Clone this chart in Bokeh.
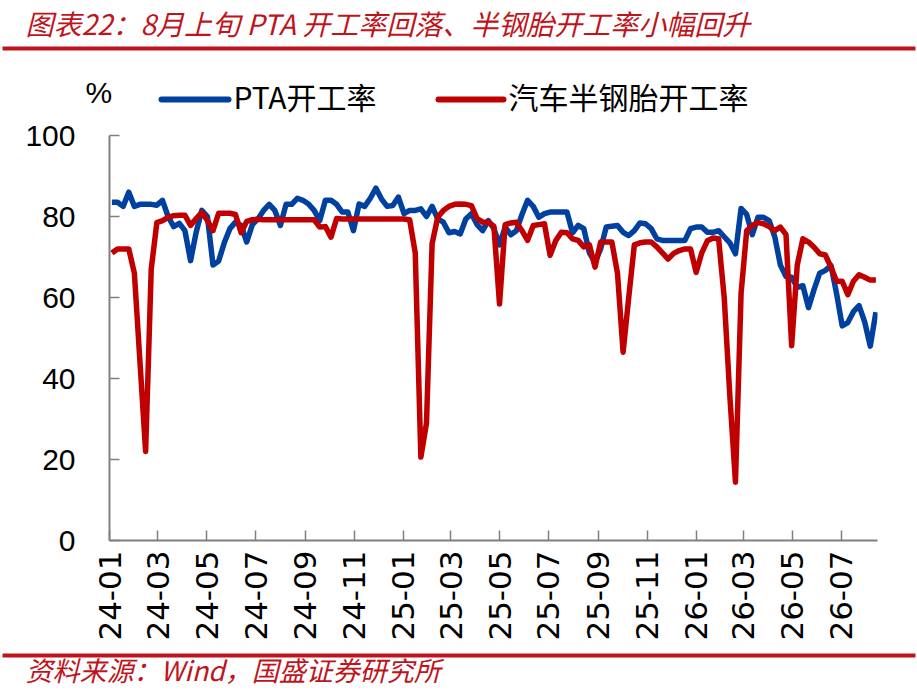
import math
import pandas as pd
from bokeh.plotting import figure
from bokeh.models import Range1d, FixedTicker, Label
from bokeh.embed import file_html
from bokeh.resources import INLINE

# ---------------- data (weekly) ----------------
start_date = "2024-01-04"
pta = [83.5, 83.5, 82.5, 86, 82.5, 83, 83, 83, 82.8, 84,
       80, 77.5, 78.3, 76.5, 69.1, 76.1, 81.5, 80, 68, 69,
       73.5, 77, 78.6, 77.8, 73.7, 78, 79.4, 81.5, 83, 81.5,
       77.8, 83, 83, 84.5, 84, 83.1, 81.5, 79, 84, 84,
       83, 81.1, 81.1, 76.5, 83.1, 82.5, 84.5, 87, 84.3, 82.5,
       82.7, 84.8, 80.7, 81.5, 81.5, 81.9, 80, 82.5, 79.4, 78.6,
       76, 76.3, 75.7, 79.4, 80.7, 78, 76.5, 79, 77, 73,
       77.4, 75.5, 76.5, 80.5, 84, 82.5, 79.8, 80.7, 81.1, 81.1,
       81.1, 81.1, 76, 77.8, 77, 71, 68.7, 72, 77.4, 77.6,
       77.8, 76.1, 75.3, 76.5, 78.4, 78.2, 77, 74.5, 74.1, 74.1,
       74.1, 74.1, 74.1, 77, 77.4, 77.4, 76.1, 76.1, 76.5, 75,
       73.5, 70.8, 82, 80.5, 75.5, 79.8, 79.8, 79, 75, 68,
       65.2, 65, 62.5, 62.9, 57.5, 62, 66, 66.7, 67.9, 61,
       53, 53.8, 56.5, 58, 54, 48, 56.4]
tire = [71, 72, 72, 72, 66, 44, 22, 67, 78.5, 79,
        79.8, 80.2, 80.3, 80.3, 77.8, 79.5, 81, 79, 76.5, 80.8,
        80.8, 80.8, 80.5, 76, 78.8, 79.2, 79.3, 79.2, 79.2, 79.2,
        79.2, 79.2, 79.2, 79.2, 79.2, 79.2, 79.2, 77.4, 77.5, 74.9,
        79.5, 79.4, 79.4, 79.4, 79.4, 79.4, 79.4, 79.4, 79.4, 79.4,
        79.4, 79.4, 79.4, 79.2, 71, 20.6, 29, 73.3, 79.8, 81.5,
        82.5, 83, 83.1, 83, 82.7, 79.5, 78.6, 78.6, 77.6, 58.4,
        78, 78.4, 78.6, 76.5, 74.1, 77.8, 78, 78.2, 70.4, 74,
        76.1, 76, 74.5, 74.1, 72.5, 73, 67.5, 73.7, 73.7, 73.7,
        66, 46.5, 60, 73, 73.5, 73.7, 73.7, 72.5, 71, 69.5,
        70.9, 71.6, 72, 72, 66.2, 71, 74, 74.7, 74.5, 60,
        35.7, 14.4, 61, 76.5, 77.8, 78.5, 78.2, 77.5, 76.5, 77.4,
        75.5, 48.1, 68, 74.5, 73.7, 72.4, 70.8, 70.5, 67.5, 64,
        64, 60.7, 64, 65.6, 65, 64.3, 64.3]
series_names = ["PTA开工率", "汽车半钢胎开工率"]
tick_dates = ["2024-01-01", "2024-03-01", "2024-05-01", "2024-07-01",
              "2024-09-01", "2024-11-01", "2025-01-01", "2025-03-01",
              "2025-05-01", "2025-07-01", "2025-09-01", "2025-11-01",
              "2026-01-01", "2026-03-01", "2026-05-01", "2026-07-01"]
tick_labels = ["24-01", "24-03", "24-05", "24-07", "24-09", "24-11",
               "25-01", "25-03", "25-05", "25-07", "25-09", "25-11",
               "26-01", "26-03", "26-05", "26-07"]
y_ticks = [0, 20, 40, 60, 80, 100]
title_text = "图表22：8月上旬 PTA 开工率回落、半钢胎开工率小幅回升"
source_text = "资料来源：Wind，国盛证券研究所"
unit_text = "%"

# ---------------- styling ----------------
BLUE = "#0041A0"
RED = "#C00000"
TRED = "#C0141C"
AXIS = "#808080"
CJK = "Noto Sans CJK SC"
NUM = "Liberation Sans"
W = 916
H_HEAD, H_MAIN, H_FOOT = 118, 526, 48


def panel(h):
    f = figure(width=W, height=h, x_range=Range1d(0, W), y_range=Range1d(h, 0),
               output_backend="svg", toolbar_location=None, min_border=0,
               x_axis_location=None, y_axis_location=None)
    f.outline_line_color = None
    f.grid.visible = False
    f.background_fill_color = "white"
    f.border_fill_color = "white"
    return f


def put_text(f, x, y, text, size, color="black", font=CJK, style="normal"):
    f.add_layout(Label(x=x, y=y, text=text, text_font=font, text_font_size=size,
                       text_font_style=style, text_color=color,
                       text_baseline="middle", text_align="left"))


# ---------------- header: title, rule, unit, legend ----------------
head = panel(H_HEAD)
put_text(head, 25, 22, title_text, "28px", TRED, style="italic")
head.line([2, 915], [48, 48], line_color=TRED, line_width=4)
put_text(head, 85, 92, unit_text, "30px", "black", font=NUM)
head.line([161, 228], [99, 99], line_color=BLUE, line_width=6, line_cap="round")
put_text(head, 233, 95, series_names[0], "30px")
head.line([438, 503], [99, 99], line_color=RED, line_width=6, line_cap="round")
put_text(head, 508, 95, series_names[1], "30px")

# ---------------- main chart ----------------
dates = pd.date_range(start_date, periods=len(pta), freq="7D")

p = figure(width=W, height=H_MAIN, x_axis_type="datetime",
           output_backend="svg", toolbar_location=None,
           x_range=Range1d(pd.Timestamp("2024-01-01"), pd.Timestamp("2026-08-15")),
           y_range=Range1d(0, 100),
           min_border_left=109, min_border_right=W - 877,
           min_border_top=17, min_border_bottom=104)
p.outline_line_color = None
p.grid.visible = False
p.background_fill_color = "white"
p.border_fill_color = "white"

p.line(dates, pta, line_color=BLUE, line_width=5.5, line_join="round")
p.line(dates, tire, line_color=RED, line_width=5.5, line_join="round")

tick_ms = [int(pd.Timestamp(d).value // 10**6) for d in tick_dates]
xa = p.xaxis[0]
xa.ticker = FixedTicker(ticks=tick_ms)
xa.major_label_overrides = {t: l for t, l in zip(tick_ms, tick_labels)}
xa.major_label_orientation = math.pi / 2
xa.major_label_text_font = "DejaVu Sans"
xa.major_label_text_font_size = "31px"
xa.major_label_standoff = 10

ya = p.yaxis[0]
ya.ticker = FixedTicker(ticks=y_ticks)
ya.major_label_text_font = NUM
ya.major_label_text_font_size = "30px"
ya.major_label_standoff = 34

for ax in (xa, ya):
    ax.axis_line_color = AXIS
    ax.axis_line_width = 2
    ax.major_tick_line_color = AXIS
    ax.major_tick_line_width = 1.5
    ax.major_tick_in = 10
    ax.major_tick_out = 0
    ax.minor_tick_line_color = None
    ax.major_label_text_color = "black"

# ---------------- footer: rule and source ----------------
foot = panel(H_FOOT)
foot.line([2, 915], [11, 11], line_color=TRED, line_width=4)
put_text(foot, 25, 25, source_text, "27px", TRED, style="italic")

open("out.html", "w").write(file_html([head, p, foot], INLINE))
